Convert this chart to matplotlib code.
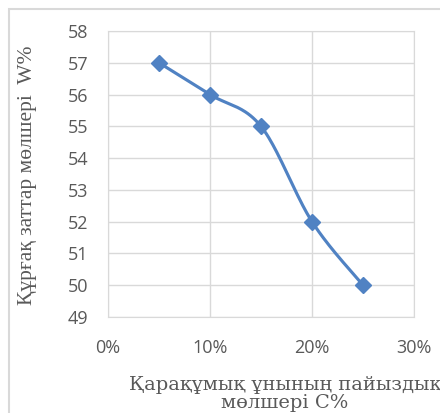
"""Dry-matter content vs. buckwheat flour share, smoothed line with diamond markers."""

import numpy as np
import matplotlib

matplotlib.use("Agg")
import matplotlib.pyplot as plt
from matplotlib.patches import Rectangle

# Buckwheat flour share (fraction) and dry-matter content W, %
flour_share = [0.05, 0.10, 0.15, 0.20, 0.25]
dry_matter = [57, 56, 55, 52, 50]

x_ticks = [0.0, 0.10, 0.20, 0.30]
x_tick_labels = ["0%", "10%", "20%", "30%"]
y_ticks = [49, 50, 51, 52, 53, 54, 55, 56, 57, 58]

LINE = "#5082C3"
GRID = "#D9D9D9"
TICK = "#595959"


def smooth_curve(xs, ys, steps=40):
    """Catmull-Rom style Bezier smoothing through every data point."""
    pts = np.column_stack([xs, ys]).astype(float)
    padded = np.vstack([pts[0], pts, pts[-1]])
    out = []
    t = np.linspace(0, 1, steps)[:, None]
    for i in range(1, len(padded) - 2):
        p0, p1, p2, p3 = padded[i - 1], padded[i], padded[i + 1], padded[i + 2]
        c1 = p1 + (p2 - p0) / 6.0
        c2 = p2 - (p3 - p1) / 6.0
        seg = ((1 - t) ** 3) * p1 + 3 * ((1 - t) ** 2) * t * c1 \
            + 3 * (1 - t) * t ** 2 * c2 + t ** 3 * p2
        out.append(seg if i == 1 else seg[1:])
    curve = np.vstack(out)
    return curve[:, 0], curve[:, 1]


fig = plt.figure(figsize=(4.40, 4.13), dpi=100)
W, H = 440, 413
ax = fig.add_axes([108 / W, 1 - 317 / H, (414 - 108) / W, (317 - 31) / H])

# partial chart-area frame
fig.patches.append(Rectangle((9 / W, -0.1), 1.2, 1 - 9 / H + 0.1,
                             transform=fig.transFigure, fill=False,
                             edgecolor=GRID, linewidth=1.5))

sx, sy = smooth_curve(flour_share, dry_matter)
ax.plot(sx, sy, color=LINE, linewidth=2.25, zorder=3)
ax.plot(flour_share, dry_matter, linestyle="none", marker="D",
        markersize=8.5, color=LINE, zorder=4)

ax.set_xlim(0, 0.30)
ax.set_ylim(49, 58)
ax.set_xticks(x_ticks)
ax.set_xticklabels(x_tick_labels)
ax.set_yticks(y_ticks)
ax.grid(True, color=GRID, linewidth=1)
ax.set_axisbelow(True)
for spine in ax.spines.values():
    spine.set_color(GRID)
ax.tick_params(length=0, labelsize=13, colors=TICK)
ax.tick_params(axis="x", pad=15.5)
ax.tick_params(axis="y", pad=14)
for lab in ax.get_xticklabels() + ax.get_yticklabels():
    lab.set_family(["Open Sans", "DejaVu Sans"])

ax.set_ylabel("Құрғақ заттар мөлшері  W%",
              family=["Liberation Serif", "DejaVu Serif"], fontsize=15.5,
              color=TICK)
ax.yaxis.set_label_coords(37 / W, 1 - 175 / H, transform=fig.transFigure)
fig.text(285 / W, 1 - 394 / H, "Қарақұмық ұнының пайыздық\nмөлшері С%",
         family=["DejaVu Serif"], fontsize=14, color=TICK, ha="center",
         va="center", linespacing=1.05)

fig.savefig("out.png", dpi=100)
